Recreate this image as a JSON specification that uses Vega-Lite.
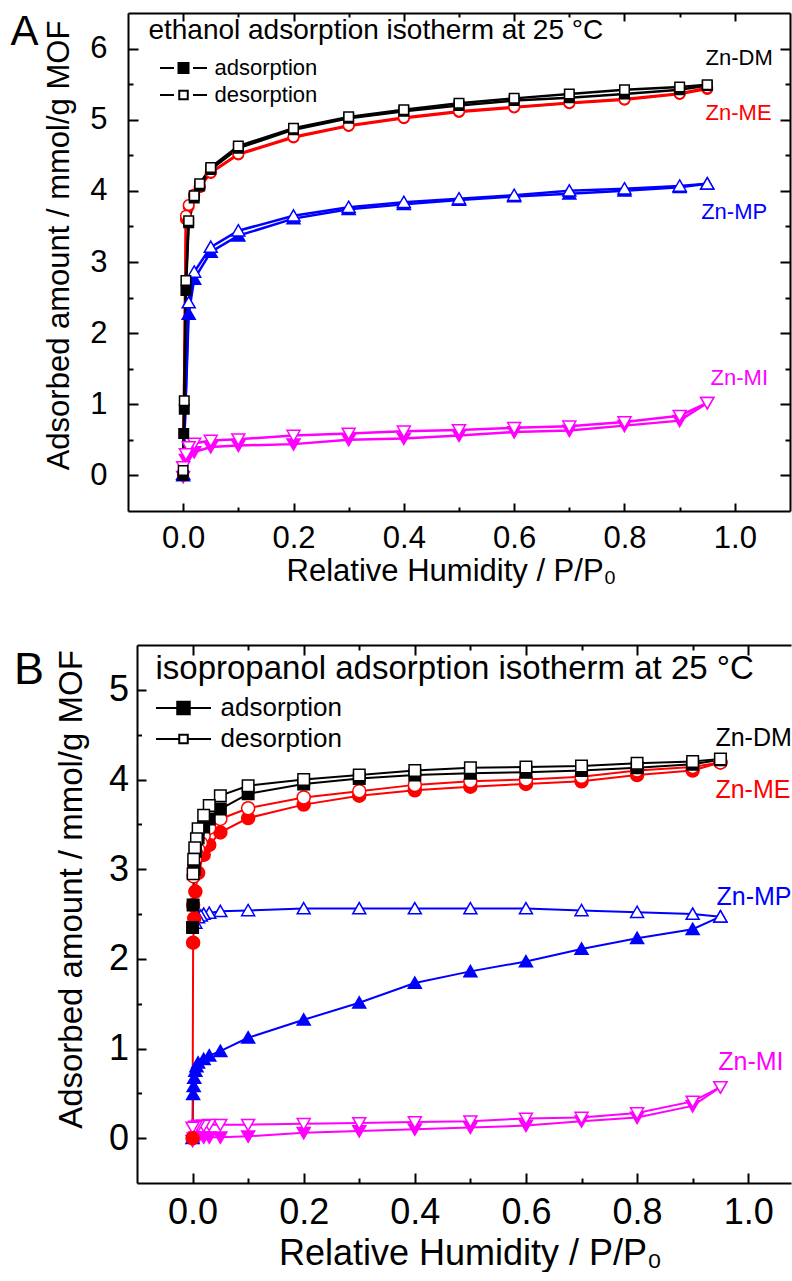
{
  "$schema": "https://vega.github.io/schema/vega-lite/v6.json",
  "background": "white",
  "padding": {"left": 10, "top": 11, "right": 0, "bottom": 0},
  "spacing": 58,
  "config": {
    "font": "Liberation Sans",
    "view": {"stroke": null},
    "axis": {
      "grid": false,
      "domainColor": "black",
      "domainWidth": 2,
      "tickColor": "black",
      "tickWidth": 2,
      "labelColor": "black",
      "titleColor": "black",
      "labelFont": "Liberation Sans",
      "titleFont": "Liberation Sans",
      "titleFontWeight": "normal",
      "labelOverlap": false,
      "labelFlush": false
    }
  },
  "resolve": {"scale": {"shape": "independent", "fill": "independent", "stroke": "independent", "color": "independent"}},
  "datasets": {
    "eth": [
      {"sample":"Zn-MI","branch":"adsorption","pressure":0,"amount":-0.02},
      {"sample":"Zn-MI","branch":"adsorption","pressure":0.005,"amount":0.22},
      {"sample":"Zn-MI","branch":"adsorption","pressure":0.01,"amount":0.28},
      {"sample":"Zn-MI","branch":"adsorption","pressure":0.02,"amount":0.33},
      {"sample":"Zn-MI","branch":"adsorption","pressure":0.05,"amount":0.40},
      {"sample":"Zn-MI","branch":"adsorption","pressure":0.1,"amount":0.42},
      {"sample":"Zn-MI","branch":"adsorption","pressure":0.2,"amount":0.44},
      {"sample":"Zn-MI","branch":"adsorption","pressure":0.3,"amount":0.50},
      {"sample":"Zn-MI","branch":"adsorption","pressure":0.4,"amount":0.52},
      {"sample":"Zn-MI","branch":"adsorption","pressure":0.5,"amount":0.56},
      {"sample":"Zn-MI","branch":"adsorption","pressure":0.6,"amount":0.61},
      {"sample":"Zn-MI","branch":"adsorption","pressure":0.7,"amount":0.63},
      {"sample":"Zn-MI","branch":"adsorption","pressure":0.8,"amount":0.70},
      {"sample":"Zn-MI","branch":"adsorption","pressure":0.9,"amount":0.77},
      {"sample":"Zn-MI","branch":"adsorption","pressure":0.95,"amount":1.02},
      {"sample":"Zn-MI","branch":"desorption","pressure":0.95,"amount":1.02},
      {"sample":"Zn-MI","branch":"desorption","pressure":0.9,"amount":0.84},
      {"sample":"Zn-MI","branch":"desorption","pressure":0.8,"amount":0.75},
      {"sample":"Zn-MI","branch":"desorption","pressure":0.7,"amount":0.69},
      {"sample":"Zn-MI","branch":"desorption","pressure":0.6,"amount":0.67},
      {"sample":"Zn-MI","branch":"desorption","pressure":0.5,"amount":0.64},
      {"sample":"Zn-MI","branch":"desorption","pressure":0.4,"amount":0.62},
      {"sample":"Zn-MI","branch":"desorption","pressure":0.3,"amount":0.59},
      {"sample":"Zn-MI","branch":"desorption","pressure":0.2,"amount":0.56},
      {"sample":"Zn-MI","branch":"desorption","pressure":0.1,"amount":0.51},
      {"sample":"Zn-MI","branch":"desorption","pressure":0.05,"amount":0.49},
      {"sample":"Zn-MI","branch":"desorption","pressure":0.02,"amount":0.45},
      {"sample":"Zn-MI","branch":"desorption","pressure":0.01,"amount":0.40},
      {"sample":"Zn-MI","branch":"desorption","pressure":0.005,"amount":0.30},
      {"sample":"Zn-MI","branch":"desorption","pressure":0,"amount":0.12},
      {"sample":"Zn-MP","branch":"adsorption","pressure":0,"amount":0},
      {"sample":"Zn-MP","branch":"adsorption","pressure":0.01,"amount":2.27},
      {"sample":"Zn-MP","branch":"adsorption","pressure":0.02,"amount":2.76},
      {"sample":"Zn-MP","branch":"adsorption","pressure":0.05,"amount":3.14},
      {"sample":"Zn-MP","branch":"adsorption","pressure":0.1,"amount":3.37},
      {"sample":"Zn-MP","branch":"adsorption","pressure":0.2,"amount":3.61},
      {"sample":"Zn-MP","branch":"adsorption","pressure":0.3,"amount":3.74},
      {"sample":"Zn-MP","branch":"adsorption","pressure":0.4,"amount":3.81},
      {"sample":"Zn-MP","branch":"adsorption","pressure":0.5,"amount":3.87},
      {"sample":"Zn-MP","branch":"adsorption","pressure":0.6,"amount":3.92},
      {"sample":"Zn-MP","branch":"adsorption","pressure":0.7,"amount":3.96},
      {"sample":"Zn-MP","branch":"adsorption","pressure":0.8,"amount":4.00},
      {"sample":"Zn-MP","branch":"adsorption","pressure":0.9,"amount":4.05},
      {"sample":"Zn-MP","branch":"adsorption","pressure":0.95,"amount":4.10},
      {"sample":"Zn-MP","branch":"desorption","pressure":0.95,"amount":4.10},
      {"sample":"Zn-MP","branch":"desorption","pressure":0.9,"amount":4.07},
      {"sample":"Zn-MP","branch":"desorption","pressure":0.8,"amount":4.03},
      {"sample":"Zn-MP","branch":"desorption","pressure":0.7,"amount":4.00},
      {"sample":"Zn-MP","branch":"desorption","pressure":0.6,"amount":3.94},
      {"sample":"Zn-MP","branch":"desorption","pressure":0.5,"amount":3.89},
      {"sample":"Zn-MP","branch":"desorption","pressure":0.4,"amount":3.84},
      {"sample":"Zn-MP","branch":"desorption","pressure":0.3,"amount":3.77},
      {"sample":"Zn-MP","branch":"desorption","pressure":0.2,"amount":3.65},
      {"sample":"Zn-MP","branch":"desorption","pressure":0.1,"amount":3.44},
      {"sample":"Zn-MP","branch":"desorption","pressure":0.05,"amount":3.21},
      {"sample":"Zn-MP","branch":"desorption","pressure":0.02,"amount":2.86},
      {"sample":"Zn-MP","branch":"desorption","pressure":0.01,"amount":2.43},
      {"sample":"Zn-MP","branch":"desorption","pressure":0,"amount":0.02},
      {"sample":"Zn-ME","branch":"adsorption","pressure":0,"amount":0},
      {"sample":"Zn-ME","branch":"adsorption","pressure":0.005,"amount":3.60},
      {"sample":"Zn-ME","branch":"adsorption","pressure":0.01,"amount":3.78},
      {"sample":"Zn-ME","branch":"adsorption","pressure":0.02,"amount":3.93},
      {"sample":"Zn-ME","branch":"adsorption","pressure":0.03,"amount":4.05},
      {"sample":"Zn-ME","branch":"adsorption","pressure":0.05,"amount":4.25},
      {"sample":"Zn-ME","branch":"adsorption","pressure":0.1,"amount":4.51},
      {"sample":"Zn-ME","branch":"adsorption","pressure":0.2,"amount":4.75},
      {"sample":"Zn-ME","branch":"adsorption","pressure":0.3,"amount":4.91},
      {"sample":"Zn-ME","branch":"adsorption","pressure":0.4,"amount":5.02},
      {"sample":"Zn-ME","branch":"adsorption","pressure":0.5,"amount":5.11},
      {"sample":"Zn-ME","branch":"adsorption","pressure":0.6,"amount":5.17},
      {"sample":"Zn-ME","branch":"adsorption","pressure":0.7,"amount":5.23},
      {"sample":"Zn-ME","branch":"adsorption","pressure":0.8,"amount":5.28},
      {"sample":"Zn-ME","branch":"adsorption","pressure":0.9,"amount":5.36},
      {"sample":"Zn-ME","branch":"adsorption","pressure":0.95,"amount":5.43},
      {"sample":"Zn-ME","branch":"desorption","pressure":0.95,"amount":5.45},
      {"sample":"Zn-ME","branch":"desorption","pressure":0.9,"amount":5.37},
      {"sample":"Zn-ME","branch":"desorption","pressure":0.8,"amount":5.29},
      {"sample":"Zn-ME","branch":"desorption","pressure":0.7,"amount":5.24},
      {"sample":"Zn-ME","branch":"desorption","pressure":0.6,"amount":5.18},
      {"sample":"Zn-ME","branch":"desorption","pressure":0.5,"amount":5.12},
      {"sample":"Zn-ME","branch":"desorption","pressure":0.4,"amount":5.03},
      {"sample":"Zn-ME","branch":"desorption","pressure":0.3,"amount":4.92},
      {"sample":"Zn-ME","branch":"desorption","pressure":0.2,"amount":4.76},
      {"sample":"Zn-ME","branch":"desorption","pressure":0.1,"amount":4.52},
      {"sample":"Zn-ME","branch":"desorption","pressure":0.05,"amount":4.26},
      {"sample":"Zn-ME","branch":"desorption","pressure":0.03,"amount":4.07},
      {"sample":"Zn-ME","branch":"desorption","pressure":0.02,"amount":3.95},
      {"sample":"Zn-ME","branch":"desorption","pressure":0.01,"amount":3.80},
      {"sample":"Zn-ME","branch":"desorption","pressure":0.005,"amount":3.65},
      {"sample":"Zn-ME","branch":"desorption","pressure":0,"amount":0.03},
      {"sample":"Zn-DM","branch":"adsorption","pressure":0,"amount":0},
      {"sample":"Zn-DM","branch":"adsorption","pressure":0.001,"amount":0.59},
      {"sample":"Zn-DM","branch":"adsorption","pressure":0.002,"amount":0.93},
      {"sample":"Zn-DM","branch":"adsorption","pressure":0.005,"amount":2.60},
      {"sample":"Zn-DM","branch":"adsorption","pressure":0.01,"amount":3.55},
      {"sample":"Zn-DM","branch":"adsorption","pressure":0.02,"amount":3.90},
      {"sample":"Zn-DM","branch":"adsorption","pressure":0.03,"amount":4.07},
      {"sample":"Zn-DM","branch":"adsorption","pressure":0.05,"amount":4.30},
      {"sample":"Zn-DM","branch":"adsorption","pressure":0.1,"amount":4.60},
      {"sample":"Zn-DM","branch":"adsorption","pressure":0.2,"amount":4.86},
      {"sample":"Zn-DM","branch":"adsorption","pressure":0.3,"amount":5.02},
      {"sample":"Zn-DM","branch":"adsorption","pressure":0.4,"amount":5.12},
      {"sample":"Zn-DM","branch":"adsorption","pressure":0.5,"amount":5.20},
      {"sample":"Zn-DM","branch":"adsorption","pressure":0.6,"amount":5.27},
      {"sample":"Zn-DM","branch":"adsorption","pressure":0.7,"amount":5.31},
      {"sample":"Zn-DM","branch":"adsorption","pressure":0.8,"amount":5.36},
      {"sample":"Zn-DM","branch":"adsorption","pressure":0.9,"amount":5.42},
      {"sample":"Zn-DM","branch":"adsorption","pressure":0.95,"amount":5.48},
      {"sample":"Zn-DM","branch":"desorption","pressure":0.95,"amount":5.49},
      {"sample":"Zn-DM","branch":"desorption","pressure":0.9,"amount":5.46},
      {"sample":"Zn-DM","branch":"desorption","pressure":0.8,"amount":5.42},
      {"sample":"Zn-DM","branch":"desorption","pressure":0.7,"amount":5.36},
      {"sample":"Zn-DM","branch":"desorption","pressure":0.6,"amount":5.30},
      {"sample":"Zn-DM","branch":"desorption","pressure":0.5,"amount":5.23},
      {"sample":"Zn-DM","branch":"desorption","pressure":0.4,"amount":5.14},
      {"sample":"Zn-DM","branch":"desorption","pressure":0.3,"amount":5.04},
      {"sample":"Zn-DM","branch":"desorption","pressure":0.2,"amount":4.88},
      {"sample":"Zn-DM","branch":"desorption","pressure":0.1,"amount":4.63},
      {"sample":"Zn-DM","branch":"desorption","pressure":0.05,"amount":4.33},
      {"sample":"Zn-DM","branch":"desorption","pressure":0.03,"amount":4.10},
      {"sample":"Zn-DM","branch":"desorption","pressure":0.02,"amount":3.93},
      {"sample":"Zn-DM","branch":"desorption","pressure":0.01,"amount":3.58},
      {"sample":"Zn-DM","branch":"desorption","pressure":0.005,"amount":2.74},
      {"sample":"Zn-DM","branch":"desorption","pressure":0.002,"amount":1.05},
      {"sample":"Zn-DM","branch":"desorption","pressure":0,"amount":0.07}
    ],
    "ipa": [
      {"sample":"Zn-MI","branch":"adsorption","pressure":0,"amount":-0.03},
      {"sample":"Zn-MI","branch":"adsorption","pressure":0.002,"amount":0.0},
      {"sample":"Zn-MI","branch":"adsorption","pressure":0.005,"amount":0.01},
      {"sample":"Zn-MI","branch":"adsorption","pressure":0.01,"amount":0.01},
      {"sample":"Zn-MI","branch":"adsorption","pressure":0.02,"amount":0.01},
      {"sample":"Zn-MI","branch":"adsorption","pressure":0.03,"amount":0.01},
      {"sample":"Zn-MI","branch":"adsorption","pressure":0.05,"amount":0.01},
      {"sample":"Zn-MI","branch":"adsorption","pressure":0.1,"amount":0.02},
      {"sample":"Zn-MI","branch":"adsorption","pressure":0.2,"amount":0.06},
      {"sample":"Zn-MI","branch":"adsorption","pressure":0.3,"amount":0.08},
      {"sample":"Zn-MI","branch":"adsorption","pressure":0.4,"amount":0.10},
      {"sample":"Zn-MI","branch":"adsorption","pressure":0.5,"amount":0.12},
      {"sample":"Zn-MI","branch":"adsorption","pressure":0.6,"amount":0.14},
      {"sample":"Zn-MI","branch":"adsorption","pressure":0.7,"amount":0.19},
      {"sample":"Zn-MI","branch":"adsorption","pressure":0.8,"amount":0.23},
      {"sample":"Zn-MI","branch":"adsorption","pressure":0.9,"amount":0.36},
      {"sample":"Zn-MI","branch":"adsorption","pressure":0.95,"amount":0.57},
      {"sample":"Zn-MI","branch":"desorption","pressure":0.95,"amount":0.57},
      {"sample":"Zn-MI","branch":"desorption","pressure":0.9,"amount":0.41},
      {"sample":"Zn-MI","branch":"desorption","pressure":0.8,"amount":0.28},
      {"sample":"Zn-MI","branch":"desorption","pressure":0.7,"amount":0.23},
      {"sample":"Zn-MI","branch":"desorption","pressure":0.6,"amount":0.22},
      {"sample":"Zn-MI","branch":"desorption","pressure":0.5,"amount":0.19},
      {"sample":"Zn-MI","branch":"desorption","pressure":0.4,"amount":0.18},
      {"sample":"Zn-MI","branch":"desorption","pressure":0.3,"amount":0.17},
      {"sample":"Zn-MI","branch":"desorption","pressure":0.2,"amount":0.16},
      {"sample":"Zn-MI","branch":"desorption","pressure":0.1,"amount":0.15},
      {"sample":"Zn-MI","branch":"desorption","pressure":0.05,"amount":0.15},
      {"sample":"Zn-MI","branch":"desorption","pressure":0.03,"amount":0.15},
      {"sample":"Zn-MI","branch":"desorption","pressure":0.02,"amount":0.14},
      {"sample":"Zn-MI","branch":"desorption","pressure":0.01,"amount":0.14},
      {"sample":"Zn-MI","branch":"desorption","pressure":0.005,"amount":0.13},
      {"sample":"Zn-MI","branch":"desorption","pressure":0,"amount":0.12},
      {"sample":"Zn-MP","branch":"adsorption","pressure":0,"amount":0},
      {"sample":"Zn-MP","branch":"adsorption","pressure":0.001,"amount":0.49},
      {"sample":"Zn-MP","branch":"adsorption","pressure":0.002,"amount":0.58},
      {"sample":"Zn-MP","branch":"adsorption","pressure":0.003,"amount":0.67},
      {"sample":"Zn-MP","branch":"adsorption","pressure":0.005,"amount":0.75},
      {"sample":"Zn-MP","branch":"adsorption","pressure":0.007,"amount":0.80},
      {"sample":"Zn-MP","branch":"adsorption","pressure":0.01,"amount":0.84},
      {"sample":"Zn-MP","branch":"adsorption","pressure":0.02,"amount":0.88},
      {"sample":"Zn-MP","branch":"adsorption","pressure":0.03,"amount":0.92},
      {"sample":"Zn-MP","branch":"adsorption","pressure":0.05,"amount":0.97},
      {"sample":"Zn-MP","branch":"adsorption","pressure":0.1,"amount":1.12},
      {"sample":"Zn-MP","branch":"adsorption","pressure":0.2,"amount":1.32},
      {"sample":"Zn-MP","branch":"adsorption","pressure":0.3,"amount":1.51},
      {"sample":"Zn-MP","branch":"adsorption","pressure":0.4,"amount":1.73},
      {"sample":"Zn-MP","branch":"adsorption","pressure":0.5,"amount":1.86},
      {"sample":"Zn-MP","branch":"adsorption","pressure":0.6,"amount":1.97},
      {"sample":"Zn-MP","branch":"adsorption","pressure":0.7,"amount":2.11},
      {"sample":"Zn-MP","branch":"adsorption","pressure":0.8,"amount":2.23},
      {"sample":"Zn-MP","branch":"adsorption","pressure":0.9,"amount":2.33},
      {"sample":"Zn-MP","branch":"adsorption","pressure":0.95,"amount":2.47},
      {"sample":"Zn-MP","branch":"desorption","pressure":0.95,"amount":2.47},
      {"sample":"Zn-MP","branch":"desorption","pressure":0.9,"amount":2.50},
      {"sample":"Zn-MP","branch":"desorption","pressure":0.8,"amount":2.52},
      {"sample":"Zn-MP","branch":"desorption","pressure":0.7,"amount":2.54},
      {"sample":"Zn-MP","branch":"desorption","pressure":0.6,"amount":2.56},
      {"sample":"Zn-MP","branch":"desorption","pressure":0.5,"amount":2.56},
      {"sample":"Zn-MP","branch":"desorption","pressure":0.4,"amount":2.56},
      {"sample":"Zn-MP","branch":"desorption","pressure":0.3,"amount":2.56},
      {"sample":"Zn-MP","branch":"desorption","pressure":0.2,"amount":2.56},
      {"sample":"Zn-MP","branch":"desorption","pressure":0.1,"amount":2.54},
      {"sample":"Zn-MP","branch":"desorption","pressure":0.05,"amount":2.53},
      {"sample":"Zn-MP","branch":"desorption","pressure":0.03,"amount":2.51},
      {"sample":"Zn-MP","branch":"desorption","pressure":0.02,"amount":2.50},
      {"sample":"Zn-MP","branch":"desorption","pressure":0.015,"amount":2.48},
      {"sample":"Zn-MP","branch":"desorption","pressure":0.01,"amount":2.46},
      {"sample":"Zn-MP","branch":"desorption","pressure":0.005,"amount":2.40},
      {"sample":"Zn-ME","branch":"adsorption","pressure":0,"amount":0},
      {"sample":"Zn-ME","branch":"adsorption","pressure":0.001,"amount":2.18},
      {"sample":"Zn-ME","branch":"adsorption","pressure":0.003,"amount":2.45},
      {"sample":"Zn-ME","branch":"adsorption","pressure":0.005,"amount":2.75},
      {"sample":"Zn-ME","branch":"adsorption","pressure":0.01,"amount":2.96},
      {"sample":"Zn-ME","branch":"adsorption","pressure":0.02,"amount":3.16},
      {"sample":"Zn-ME","branch":"adsorption","pressure":0.03,"amount":3.27},
      {"sample":"Zn-ME","branch":"adsorption","pressure":0.05,"amount":3.41},
      {"sample":"Zn-ME","branch":"adsorption","pressure":0.1,"amount":3.57},
      {"sample":"Zn-ME","branch":"adsorption","pressure":0.2,"amount":3.72},
      {"sample":"Zn-ME","branch":"adsorption","pressure":0.3,"amount":3.82},
      {"sample":"Zn-ME","branch":"adsorption","pressure":0.4,"amount":3.88},
      {"sample":"Zn-ME","branch":"adsorption","pressure":0.5,"amount":3.92},
      {"sample":"Zn-ME","branch":"adsorption","pressure":0.6,"amount":3.95},
      {"sample":"Zn-ME","branch":"adsorption","pressure":0.7,"amount":3.98},
      {"sample":"Zn-ME","branch":"adsorption","pressure":0.8,"amount":4.05},
      {"sample":"Zn-ME","branch":"adsorption","pressure":0.9,"amount":4.10},
      {"sample":"Zn-ME","branch":"adsorption","pressure":0.95,"amount":4.19},
      {"sample":"Zn-ME","branch":"desorption","pressure":0.95,"amount":4.19},
      {"sample":"Zn-ME","branch":"desorption","pressure":0.9,"amount":4.14},
      {"sample":"Zn-ME","branch":"desorption","pressure":0.8,"amount":4.10},
      {"sample":"Zn-ME","branch":"desorption","pressure":0.7,"amount":4.03},
      {"sample":"Zn-ME","branch":"desorption","pressure":0.6,"amount":4.00},
      {"sample":"Zn-ME","branch":"desorption","pressure":0.5,"amount":3.98},
      {"sample":"Zn-ME","branch":"desorption","pressure":0.4,"amount":3.94},
      {"sample":"Zn-ME","branch":"desorption","pressure":0.3,"amount":3.87},
      {"sample":"Zn-ME","branch":"desorption","pressure":0.2,"amount":3.80},
      {"sample":"Zn-ME","branch":"desorption","pressure":0.1,"amount":3.68},
      {"sample":"Zn-ME","branch":"desorption","pressure":0.05,"amount":3.56},
      {"sample":"Zn-ME","branch":"desorption","pressure":0.03,"amount":3.46},
      {"sample":"Zn-ME","branch":"desorption","pressure":0.02,"amount":3.37},
      {"sample":"Zn-ME","branch":"desorption","pressure":0.015,"amount":3.29},
      {"sample":"Zn-ME","branch":"desorption","pressure":0.01,"amount":3.22},
      {"sample":"Zn-ME","branch":"desorption","pressure":0.007,"amount":3.17},
      {"sample":"Zn-ME","branch":"desorption","pressure":0.005,"amount":3.11},
      {"sample":"Zn-ME","branch":"desorption","pressure":0.003,"amount":3.03},
      {"sample":"Zn-ME","branch":"desorption","pressure":0.002,"amount":2.92},
      {"sample":"Zn-ME","branch":"desorption","pressure":0.001,"amount":2.60},
      {"sample":"Zn-DM","branch":"adsorption","pressure":0,"amount":2.35},
      {"sample":"Zn-DM","branch":"adsorption","pressure":0.001,"amount":2.60},
      {"sample":"Zn-DM","branch":"adsorption","pressure":0.003,"amount":3.00},
      {"sample":"Zn-DM","branch":"adsorption","pressure":0.005,"amount":3.20},
      {"sample":"Zn-DM","branch":"adsorption","pressure":0.01,"amount":3.35},
      {"sample":"Zn-DM","branch":"adsorption","pressure":0.02,"amount":3.47},
      {"sample":"Zn-DM","branch":"adsorption","pressure":0.03,"amount":3.56},
      {"sample":"Zn-DM","branch":"adsorption","pressure":0.05,"amount":3.67},
      {"sample":"Zn-DM","branch":"adsorption","pressure":0.1,"amount":3.84},
      {"sample":"Zn-DM","branch":"adsorption","pressure":0.2,"amount":3.95},
      {"sample":"Zn-DM","branch":"adsorption","pressure":0.3,"amount":4.01},
      {"sample":"Zn-DM","branch":"adsorption","pressure":0.4,"amount":4.05},
      {"sample":"Zn-DM","branch":"adsorption","pressure":0.5,"amount":4.07},
      {"sample":"Zn-DM","branch":"adsorption","pressure":0.6,"amount":4.08},
      {"sample":"Zn-DM","branch":"adsorption","pressure":0.7,"amount":4.10},
      {"sample":"Zn-DM","branch":"adsorption","pressure":0.8,"amount":4.13},
      {"sample":"Zn-DM","branch":"adsorption","pressure":0.9,"amount":4.17},
      {"sample":"Zn-DM","branch":"adsorption","pressure":0.95,"amount":4.22},
      {"sample":"Zn-DM","branch":"desorption","pressure":0.95,"amount":4.23},
      {"sample":"Zn-DM","branch":"desorption","pressure":0.9,"amount":4.20},
      {"sample":"Zn-DM","branch":"desorption","pressure":0.8,"amount":4.18},
      {"sample":"Zn-DM","branch":"desorption","pressure":0.7,"amount":4.15},
      {"sample":"Zn-DM","branch":"desorption","pressure":0.6,"amount":4.14},
      {"sample":"Zn-DM","branch":"desorption","pressure":0.5,"amount":4.13},
      {"sample":"Zn-DM","branch":"desorption","pressure":0.4,"amount":4.10},
      {"sample":"Zn-DM","branch":"desorption","pressure":0.3,"amount":4.05},
      {"sample":"Zn-DM","branch":"desorption","pressure":0.2,"amount":4.00},
      {"sample":"Zn-DM","branch":"desorption","pressure":0.1,"amount":3.93},
      {"sample":"Zn-DM","branch":"desorption","pressure":0.05,"amount":3.82},
      {"sample":"Zn-DM","branch":"desorption","pressure":0.03,"amount":3.71},
      {"sample":"Zn-DM","branch":"desorption","pressure":0.02,"amount":3.60},
      {"sample":"Zn-DM","branch":"desorption","pressure":0.01,"amount":3.45},
      {"sample":"Zn-DM","branch":"desorption","pressure":0.007,"amount":3.34},
      {"sample":"Zn-DM","branch":"desorption","pressure":0.004,"amount":3.24},
      {"sample":"Zn-DM","branch":"desorption","pressure":0.002,"amount":3.11},
      {"sample":"Zn-DM","branch":"desorption","pressure":0.001,"amount":2.95}
    ],
    "notesA": [
      {"kind":"series","label":"Zn-DM","sample":"Zn-DM","pressure":0.947,"amount":5.87},
      {"kind":"series","label":"Zn-ME","sample":"Zn-ME","pressure":0.947,"amount":5.09},
      {"kind":"series","label":"Zn-MP","sample":"Zn-MP","pressure":0.939,"amount":3.70},
      {"kind":"series","label":"Zn-MI","sample":"Zn-MI","pressure":0.956,"amount":1.365},
      {"kind":"heading","label":"ethanol adsorption isotherm at 25 °C","pressure":-0.063,"amount":6.14},
      {"kind":"panel","label":"A","pressure":-0.2876,"amount":6.046}
    ],
    "notesB": [
      {"kind":"series","label":"Zn-DM","sample":"Zn-DM","pressure":0.941,"amount":4.46},
      {"kind":"series","label":"Zn-ME","sample":"Zn-ME","pressure":0.941,"amount":3.88},
      {"kind":"series","label":"Zn-MP","sample":"Zn-MP","pressure":0.943,"amount":2.69},
      {"kind":"series","label":"Zn-MI","sample":"Zn-MI","pressure":0.946,"amount":0.85},
      {"kind":"heading","label":"isopropanol adsorption isotherm at 25 °C","pressure":-0.0668,"amount":5.12},
      {"kind":"panel","label":"B","pressure":-0.2943,"amount":5.065}
    ]
  },
  "vconcat": [
    {
      "width": 662,
      "height": 498,
      "resolve": {
        "scale": {"shape": "independent", "fill": "independent"},
        "axis": {"x": "independent", "y": "independent"}
      },
      "layer": [
        {
          "data": {"name": "eth"},
          "mark": {"type": "line", "strokeWidth": 2.5},
          "encoding": {
            "x": {"field": "pressure", "type": "quantitative",
              "scale": {"domain": [-0.1, 1.1], "nice": false, "zero": false},
              "axis": {"orient": "bottom", "values": [0,0.1,0.2,0.3,0.4,0.5,0.6,0.7,0.8,0.9,1.0],
                "labelExpr": "round(datum.value*10)%2==0 ? format(datum.value,'.1f') : ''",
                "tickSize": {"condition": {"test": "round(datum.value*10)%2==0", "value": -8}, "value": -4},
                "labelPadding": {"condition": {"test": "round(datum.value*10)%2==0", "value": 20}, "value": 16},
                "labelFontSize": 31, "title": "Relative Humidity / P/P₀", "titleFontSize": 31, "titlePadding": 3, "titleX": 323}},
            "y": {"field": "amount", "type": "quantitative",
              "scale": {"domain": [-0.5, 6.5], "nice": false, "zero": false},
              "axis": {"orient": "left", "values": [0,0.5,1,1.5,2,2.5,3,3.5,4,4.5,5,5.5,6],
                "labelExpr": "datum.value%1==0 ? format(datum.value,'d') : ''",
                "tickSize": {"condition": {"test": "datum.value%1==0", "value": -10}, "value": -5},
                "labelPadding": {"condition": {"test": "datum.value%1==0", "value": 31}, "value": 26},
                "labelFontSize": 31, "title": "Adsorbed amount / mmol/g MOF", "titleFontSize": 31, "titlePadding": 14, "titleY": 232}},
            "color": {"field": "sample", "type": "nominal",
              "scale": {"domain": ["Zn-DM","Zn-ME","Zn-MP","Zn-MI"], "range": ["#000000","#ff0000","#0000ff","#ff00ff"]},
              "legend": null},
            "detail": {"field": "branch"}
          }
        },
        {
          "data": {"name": "eth"},
          "mark": {"type": "point", "filled": true, "opacity": 1, "strokeWidth": 1.5, "size": 100},
          "encoding": {
            "x": {"field": "pressure", "type": "quantitative",
              "scale": {"domain": [-0.1, 1.1], "nice": false, "zero": false},
              "axis": {"orient": "top", "values": [0,0.1,0.2,0.3,0.4,0.5,0.6,0.7,0.8,0.9,1.0], "labels": false,
                "tickSize": {"condition": {"test": "round(datum.value*10)%2==0", "value": -8}, "value": -4},
                "title": null}},
            "y": {"field": "amount", "type": "quantitative",
              "scale": {"domain": [-0.5, 6.5], "nice": false, "zero": false},
              "axis": {"orient": "right", "values": [0,0.5,1,1.5,2,2.5,3,3.5,4,4.5,5,5.5,6], "labels": false,
                "tickSize": {"condition": {"test": "datum.value%1==0", "value": -10}, "value": -5},
                "title": null}},
            "shape": {"field": "sample", "type": "nominal",
              "scale": {"domain": ["Zn-DM","Zn-ME","Zn-MP","Zn-MI"],
                "range": ["M-0.95,-0.95L0.95,-0.95L0.95,0.95L-0.95,0.95Z",
                          "M-1.05,0A1.05,1.05,0,1,1,1.05,0A1.05,1.05,0,1,1,-1.05,0Z",
                          "M0,-1.2L1.3,1.05L-1.3,1.05Z",
                          "M0,1.2L1.3,-1.05L-1.3,-1.05Z"]},
              "legend": null},
            "stroke": {"field": "sample", "type": "nominal",
              "scale": {"domain": ["Zn-DM","Zn-ME","Zn-MP","Zn-MI"], "range": ["#000000","#ff0000","#0000ff","#ff00ff"]},
              "legend": null},
            "fill": {"condition": {"test": "datum.branch === 'desorption'", "value": "white"},
              "field": "sample", "type": "nominal",
              "scale": {"domain": ["Zn-DM","Zn-ME","Zn-MP","Zn-MI"], "range": ["#000000","#ff0000","#0000ff","#ff00ff"]},
              "legend": null}
          }
        },
        {
          "data": {"name": "eth"},
          "transform": [{"filter": "datum.pressure > 5"}],
          "mark": {"type": "point", "filled": true, "stroke": "black", "strokeWidth": 2},
          "encoding": {
            "x": {"field": "pressure", "type": "quantitative", "scale": {"domain": [-0.1, 1.1], "nice": false, "zero": false}, "axis": null},
            "y": {"field": "amount", "type": "quantitative", "scale": {"domain": [-0.5, 6.5], "nice": false, "zero": false}, "axis": null},
            "shape": {"field": "branch", "type": "nominal",
              "scale": {"domain": ["adsorption","desorption"],
                "range": ["M-4.7,0L-1.9,0M1.9,0L4.7,0M-1,-1L1,-1L1,1L-1,1Z",
                          "M-4.7,0L-1.9,0M1.9,0L4.7,0M-0.85,-0.85L0.85,-0.85L0.85,0.85L-0.85,0.85Z"]},
              "legend": {"title": null, "orient": "none", "legendX": 44.5, "legendY": 44, "symbolSize": 100,
                "symbolStrokeWidth": 2, "symbolOpacity": 1,
                "labelFontSize": 22, "labelColor": "black", "labelOffset": 20, "rowPadding": 5, "padding": 0, "labelLimit": 400}},
            "fill": {"field": "branch", "type": "nominal",
              "scale": {"domain": ["adsorption","desorption"], "range": ["black","white"]},
              "legend": {"title": null, "orient": "none", "legendX": 44.5, "legendY": 44, "symbolSize": 100,
                "symbolStrokeWidth": 2, "symbolOpacity": 1,
                "labelFontSize": 22, "labelColor": "black", "labelOffset": 20, "rowPadding": 5, "padding": 0, "labelLimit": 400}}
          }
        },
        {
          "data": {"name": "notesA"},
          "transform": [{"filter": "datum.kind === 'series'"}],
          "mark": {"type": "text", "align": "left", "baseline": "middle", "fontSize": 22},
          "encoding": {
            "x": {"field": "pressure", "type": "quantitative", "scale": {"domain": [-0.1, 1.1], "nice": false, "zero": false}, "axis": null},
            "y": {"field": "amount", "type": "quantitative", "scale": {"domain": [-0.5, 6.5], "nice": false, "zero": false}, "axis": null},
            "text": {"field": "label"},
            "color": {"field": "sample", "type": "nominal",
              "scale": {"domain": ["Zn-DM","Zn-ME","Zn-MP","Zn-MI"], "range": ["#000000","#ff0000","#0000ff","#ff00ff"]},
              "legend": null}
          }
        },
        {
          "data": {"name": "notesA"},
          "transform": [{"filter": "datum.kind === 'heading'"}],
          "mark": {"type": "text", "align": "left", "baseline": "alphabetic", "fontSize": 28, "color": "black"},
          "encoding": {
            "x": {"field": "pressure", "type": "quantitative", "scale": {"domain": [-0.1, 1.1], "nice": false, "zero": false}, "axis": null},
            "y": {"field": "amount", "type": "quantitative", "scale": {"domain": [-0.5, 6.5], "nice": false, "zero": false}, "axis": null},
            "text": {"field": "label"}
          }
        },
        {
          "data": {"name": "notesA"},
          "transform": [{"filter": "datum.kind === 'panel'"}],
          "mark": {"type": "text", "align": "center", "baseline": "alphabetic", "fontSize": 42, "color": "black"},
          "encoding": {
            "x": {"field": "pressure", "type": "quantitative", "scale": {"domain": [-0.1, 1.1], "nice": false, "zero": false}, "axis": null},
            "y": {"field": "amount", "type": "quantitative", "scale": {"domain": [-0.5, 6.5], "nice": false, "zero": false}, "axis": null},
            "text": {"field": "label"}
          }
        }
      ]
    },
    {
      "bounds": "flush",
      "spacing": 8,
      "hconcat": [
        {
          "width": 1,
          "height": 1,
          "data": {"values": []},
          "mark": {"type": "point", "opacity": 0}
        },
        {
          "width": 654,
          "height": 538,
          "resolve": {
            "scale": {"shape": "independent", "fill": "independent"},
            "axis": {"x": "independent", "y": "independent"}
          },
          "layer": [
            {
              "data": {"name": "ipa"},
              "mark": {"type": "line", "strokeWidth": 2},
              "encoding": {
                "x": {"field": "pressure", "type": "quantitative",
                  "scale": {"domain": [-0.1, 1.077], "nice": false, "zero": false},
                  "axis": {"orient": "bottom", "values": [0,0.1,0.2,0.3,0.4,0.5,0.6,0.7,0.8,0.9,1.0],
                    "labelExpr": "round(datum.value*10)%2==0 ? format(datum.value,'.1f') : ''",
                    "tickSize": {"condition": {"test": "round(datum.value*10)%2==0", "value": -10}, "value": -5},
                    "labelPadding": {"condition": {"test": "round(datum.value*10)%2==0", "value": 22.6}, "value": 17.6},
                    "labelFontSize": 36, "title": "Relative Humidity / P/P₀", "titleFontSize": 36, "titlePadding": 6, "titleX": 333}},
                "y": {"field": "amount", "type": "quantitative",
                  "scale": {"domain": [-0.5, 5.5], "nice": false, "zero": false},
                  "axis": {"orient": "left", "values": [0,0.5,1,1.5,2,2.5,3,3.5,4,4.5,5],
                    "labelExpr": "datum.value%1==0 ? format(datum.value,'d') : ''",
                    "tickSize": {"condition": {"test": "datum.value%1==0", "value": -9}, "value": -4.5},
                    "labelPadding": {"condition": {"test": "datum.value%1==0", "value": 17.5}, "value": 13},
                    "labelFontSize": 36, "title": "Adsorbed amount / mmol/g MOF", "titleFontSize": 33, "titlePadding": 20, "titleY": 244}},
                "color": {"field": "sample", "type": "nominal",
                  "scale": {"domain": ["Zn-DM","Zn-ME","Zn-MP","Zn-MI"], "range": ["#000000","#ff0000","#0000ff","#ff00ff"]},
                  "legend": null},
                "detail": {"field": "branch"}
              }
            },
            {
              "data": {"name": "ipa"},
              "mark": {"type": "point", "filled": true, "opacity": 1, "strokeWidth": 1.5, "size": 100},
              "encoding": {
                "x": {"field": "pressure", "type": "quantitative",
                  "scale": {"domain": [-0.1, 1.077], "nice": false, "zero": false},
                  "axis": {"orient": "top", "values": [0,0.1,0.2,0.3,0.4,0.5,0.6,0.7,0.8,0.9,1.0], "labels": false,
                    "tickSize": {"condition": {"test": "round(datum.value*10)%2==0", "value": -10}, "value": -5},
                    "title": null}},
                "y": {"field": "amount", "type": "quantitative",
                  "scale": {"domain": [-0.5, 5.5], "nice": false, "zero": false}, "axis": null},
                "shape": {"field": "sample", "type": "nominal",
                  "scale": {"domain": ["Zn-DM","Zn-ME","Zn-MP","Zn-MI"],
                    "range": ["M-1.15,-1.15L1.15,-1.15L1.15,1.15L-1.15,1.15Z",
                              "M-1.3,0A1.3,1.3,0,1,1,1.3,0A1.3,1.3,0,1,1,-1.3,0Z",
                              "M0,-1.2L1.3,1.05L-1.3,1.05Z",
                              "M0,1.2L1.3,-1.05L-1.3,-1.05Z"]},
                  "legend": null},
                "stroke": {"field": "sample", "type": "nominal",
                  "scale": {"domain": ["Zn-DM","Zn-ME","Zn-MP","Zn-MI"], "range": ["#000000","#ff0000","#0000ff","#ff00ff"]},
                  "legend": null},
                "fill": {"condition": {"test": "datum.branch === 'desorption'", "value": "white"},
                  "field": "sample", "type": "nominal",
                  "scale": {"domain": ["Zn-DM","Zn-ME","Zn-MP","Zn-MI"], "range": ["#000000","#ff0000","#0000ff","#ff00ff"]},
                  "legend": null}
              }
            },
            {
              "data": {"name": "ipa"},
              "transform": [{"filter": "datum.pressure > 5"}],
              "mark": {"type": "point", "filled": true, "stroke": "black", "strokeWidth": 2},
              "encoding": {
                "x": {"field": "pressure", "type": "quantitative", "scale": {"domain": [-0.1, 1.077], "nice": false, "zero": false}, "axis": null},
                "y": {"field": "amount", "type": "quantitative", "scale": {"domain": [-0.5, 5.5], "nice": false, "zero": false}, "axis": null},
                "shape": {"field": "branch", "type": "nominal",
                  "scale": {"domain": ["adsorption","desorption"],
                    "range": ["M-5.5,0L-1.25,0M1.25,0L5.5,0M-1.25,-1.25L1.25,-1.25L1.25,1.25L-1.25,1.25Z",
                              "M-5.5,0L-0.85,0M0.85,0L5.5,0M-0.85,-0.85L0.85,-0.85L0.85,0.85L-0.85,0.85Z"]},
                  "legend": {"title": null, "orient": "none", "legendX": 33.5, "legendY": 50, "symbolSize": 100,
                    "symbolStrokeWidth": 2, "symbolOpacity": 1,
                    "labelFontSize": 26, "labelColor": "black", "labelOffset": 24, "rowPadding": 5, "padding": 0, "labelLimit": 400}},
                "fill": {"field": "branch", "type": "nominal",
                  "scale": {"domain": ["adsorption","desorption"], "range": ["black","white"]},
                  "legend": {"title": null, "orient": "none", "legendX": 33.5, "legendY": 50, "symbolSize": 100,
                    "symbolStrokeWidth": 2, "symbolOpacity": 1,
                    "labelFontSize": 26, "labelColor": "black", "labelOffset": 24, "rowPadding": 5, "padding": 0, "labelLimit": 400}}
              }
            },
            {
              "data": {"name": "notesB"},
              "transform": [{"filter": "datum.kind === 'series'"}],
              "mark": {"type": "text", "align": "left", "baseline": "middle", "fontSize": 25},
              "encoding": {
                "x": {"field": "pressure", "type": "quantitative", "scale": {"domain": [-0.1, 1.077], "nice": false, "zero": false}, "axis": null},
                "y": {"field": "amount", "type": "quantitative", "scale": {"domain": [-0.5, 5.5], "nice": false, "zero": false}, "axis": null},
                "text": {"field": "label"},
                "color": {"field": "sample", "type": "nominal",
                  "scale": {"domain": ["Zn-DM","Zn-ME","Zn-MP","Zn-MI"], "range": ["#000000","#ff0000","#0000ff","#ff00ff"]},
                  "legend": null}
              }
            },
            {
              "data": {"name": "notesB"},
              "transform": [{"filter": "datum.kind === 'heading'"}],
              "mark": {"type": "text", "align": "left", "baseline": "alphabetic", "fontSize": 33, "color": "black"},
              "encoding": {
                "x": {"field": "pressure", "type": "quantitative", "scale": {"domain": [-0.1, 1.077], "nice": false, "zero": false}, "axis": null},
                "y": {"field": "amount", "type": "quantitative", "scale": {"domain": [-0.5, 5.5], "nice": false, "zero": false}, "axis": null},
                "text": {"field": "label"}
              }
            },
            {
              "data": {"name": "notesB"},
              "transform": [{"filter": "datum.kind === 'panel'"}],
              "mark": {"type": "text", "align": "center", "baseline": "alphabetic", "fontSize": 45, "color": "black"},
              "encoding": {
                "x": {"field": "pressure", "type": "quantitative", "scale": {"domain": [-0.1, 1.077], "nice": false, "zero": false}, "axis": null},
                "y": {"field": "amount", "type": "quantitative", "scale": {"domain": [-0.5, 5.5], "nice": false, "zero": false}, "axis": null},
                "text": {"field": "label"}
              }
            }
          ]
        }
      ]
    }
  ]
}
